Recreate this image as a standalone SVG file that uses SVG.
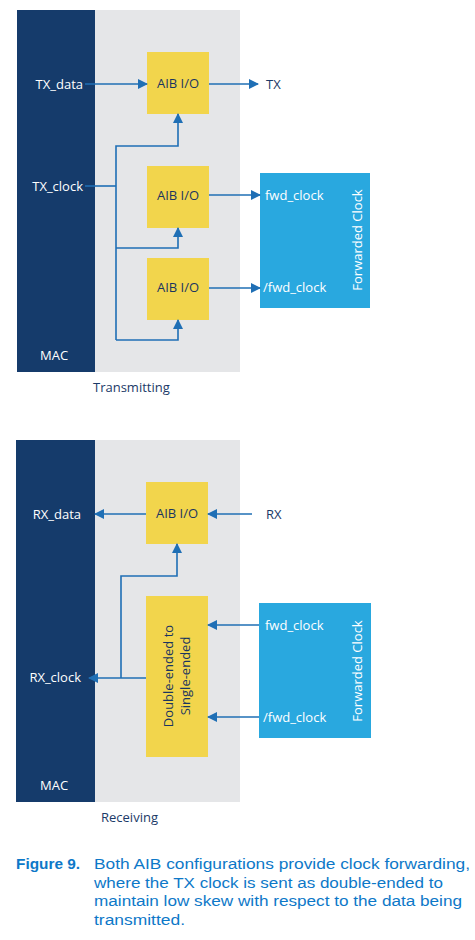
<svg xmlns="http://www.w3.org/2000/svg" width="475" height="940" viewBox="0 0 475 940">
<defs>
<marker id="ah" markerWidth="10" markerHeight="10" refX="9" refY="5" orient="auto" markerUnits="userSpaceOnUse">
<path d="M0,0 L10,5 L0,10 Z" fill="#1f6fb5"/>
</marker>
<style>
text{font-family:"Open Sans","Noto Sans","Liberation Sans",sans-serif;}
.mac{fill:#153b6b}
.bg{fill:#e5e6e8}
.aib{fill:#f2d54c}
.fc{fill:#29a8df}
.w{fill:#ffffff;font-size:13px}
.d{fill:#1b3560;font-size:13px}
.lbl{fill:#1b3a68;font-size:13px}
.cn{fill:none;stroke:#1f6fb5;stroke-width:1.6}
.cap{fill:#0d78c8;font-size:15.5px;font-family:"Liberation Sans",Arial,sans-serif}
</style>
</defs>
<rect x="0" y="0" width="475" height="940" fill="#ffffff"/>

<!-- Transmitting -->
<g id="tx-bg"><rect class="bg" x="95" y="10" width="145" height="362"/></g>
<g id="tx-mac"><rect class="mac" x="17" y="10" width="78" height="362"/>
<text class="w" x="83" y="89" text-anchor="end">TX_data</text>
<text class="w" x="83" y="191" text-anchor="end">TX_clock</text>
<text class="w" x="40" y="360">MAC</text></g>
<g id="tx-aib1"><rect class="aib" x="147" y="52" width="62" height="62"/><text class="d" x="178" y="88" text-anchor="middle">AIB I/O</text></g>
<g id="tx-aib2"><rect class="aib" x="147" y="166" width="62" height="62"/><text class="d" x="178" y="200" text-anchor="middle">AIB I/O</text></g>
<g id="tx-aib3"><rect class="aib" x="147" y="258" width="62" height="62"/><text class="d" x="178" y="292" text-anchor="middle">AIB I/O</text></g>
<g id="tx-fc"><rect class="fc" x="260" y="173" width="110" height="135"/>
<text class="w" x="265" y="200">fwd_clock</text>
<text class="w" x="263" y="292">/fwd_clock</text>
<text class="w" transform="translate(362,240) rotate(-90)" text-anchor="middle">Forwarded Clock</text></g>
<g id="tx-out"><text class="lbl" x="266" y="89">TX</text></g>
<text class="lbl" x="93" y="392">Transmitting</text>

<!-- Receiving -->
<g id="rx-bg"><rect class="bg" x="95" y="440" width="145" height="362"/></g>
<g id="rx-mac"><rect class="mac" x="16" y="440" width="79" height="362"/>
<text class="w" x="81" y="519" text-anchor="end">RX_data</text>
<text class="w" x="81" y="682" text-anchor="end">RX_clock</text>
<text class="w" x="40" y="790">MAC</text></g>
<g id="rx-aib"><rect class="aib" x="146" y="482" width="62" height="62"/><text class="d" x="177" y="518" text-anchor="middle">AIB I/O</text></g>
<g id="rx-conv"><rect class="aib" x="146" y="596" width="62" height="161"/>
<text class="d" transform="translate(173,676) rotate(-90)" text-anchor="middle">Double-ended to</text>
<text class="d" transform="translate(190,676) rotate(-90)" text-anchor="middle">Single-ended</text></g>
<g id="rx-fc"><rect class="fc" x="259" y="603" width="112" height="135"/>
<text class="w" x="265" y="630">fwd_clock</text>
<text class="w" x="263" y="722">/fwd_clock</text>
<text class="w" transform="translate(362,671) rotate(-90)" text-anchor="middle">Forwarded Clock</text></g>
<g id="rx-in"><text class="lbl" x="266" y="519">RX</text></g>
<text class="lbl" x="101" y="822">Receiving</text>

<g id="connectors">
<line class="cn" x1="85" y1="84" x2="147" y2="84" marker-end="url(#ah)"/>
<line class="cn" x1="209" y1="84" x2="258" y2="84" marker-end="url(#ah)"/>
<line class="cn" x1="85" y1="186" x2="116" y2="186"/>
<polyline class="cn" points="116,340 116,146 178,146 178,114" marker-end="url(#ah)"/>
<polyline class="cn" points="116,248 178,248 178,228" marker-end="url(#ah)"/>
<polyline class="cn" points="116,340 178,340 178,320" marker-end="url(#ah)"/>
<line class="cn" x1="209" y1="195" x2="260" y2="195" marker-end="url(#ah)"/>
<line class="cn" x1="209" y1="288" x2="260" y2="288" marker-end="url(#ah)"/>

<line class="cn" x1="146" y1="514" x2="95" y2="514" marker-end="url(#ah)"/>
<line class="cn" x1="252" y1="514" x2="208" y2="514" marker-end="url(#ah)"/>
<polyline class="cn" points="121,678 121,576 177,576 177,544" marker-end="url(#ah)"/>
<line class="cn" x1="146" y1="678" x2="89" y2="678" marker-end="url(#ah)"/>
<line class="cn" x1="259" y1="625" x2="208" y2="625" marker-end="url(#ah)"/>
<line class="cn" x1="259" y1="717" x2="208" y2="717" marker-end="url(#ah)"/>
</g>

<g id="caption">
<text class="cap" x="16" y="869" font-weight="bold" fill="#1268b3" textLength="64" lengthAdjust="spacingAndGlyphs">Figure 9.</text>
<text class="cap" x="94" y="869" textLength="376" lengthAdjust="spacingAndGlyphs">Both AIB configurations provide clock forwarding,</text>
<text class="cap" x="94" y="888" textLength="349" lengthAdjust="spacingAndGlyphs">where the TX clock is sent as double-ended to</text>
<text class="cap" x="94" y="906" textLength="368" lengthAdjust="spacingAndGlyphs">maintain low skew with respect to the data being</text>
<text class="cap" x="94" y="925" textLength="91" lengthAdjust="spacingAndGlyphs">transmitted.</text>
</g>
</svg>
